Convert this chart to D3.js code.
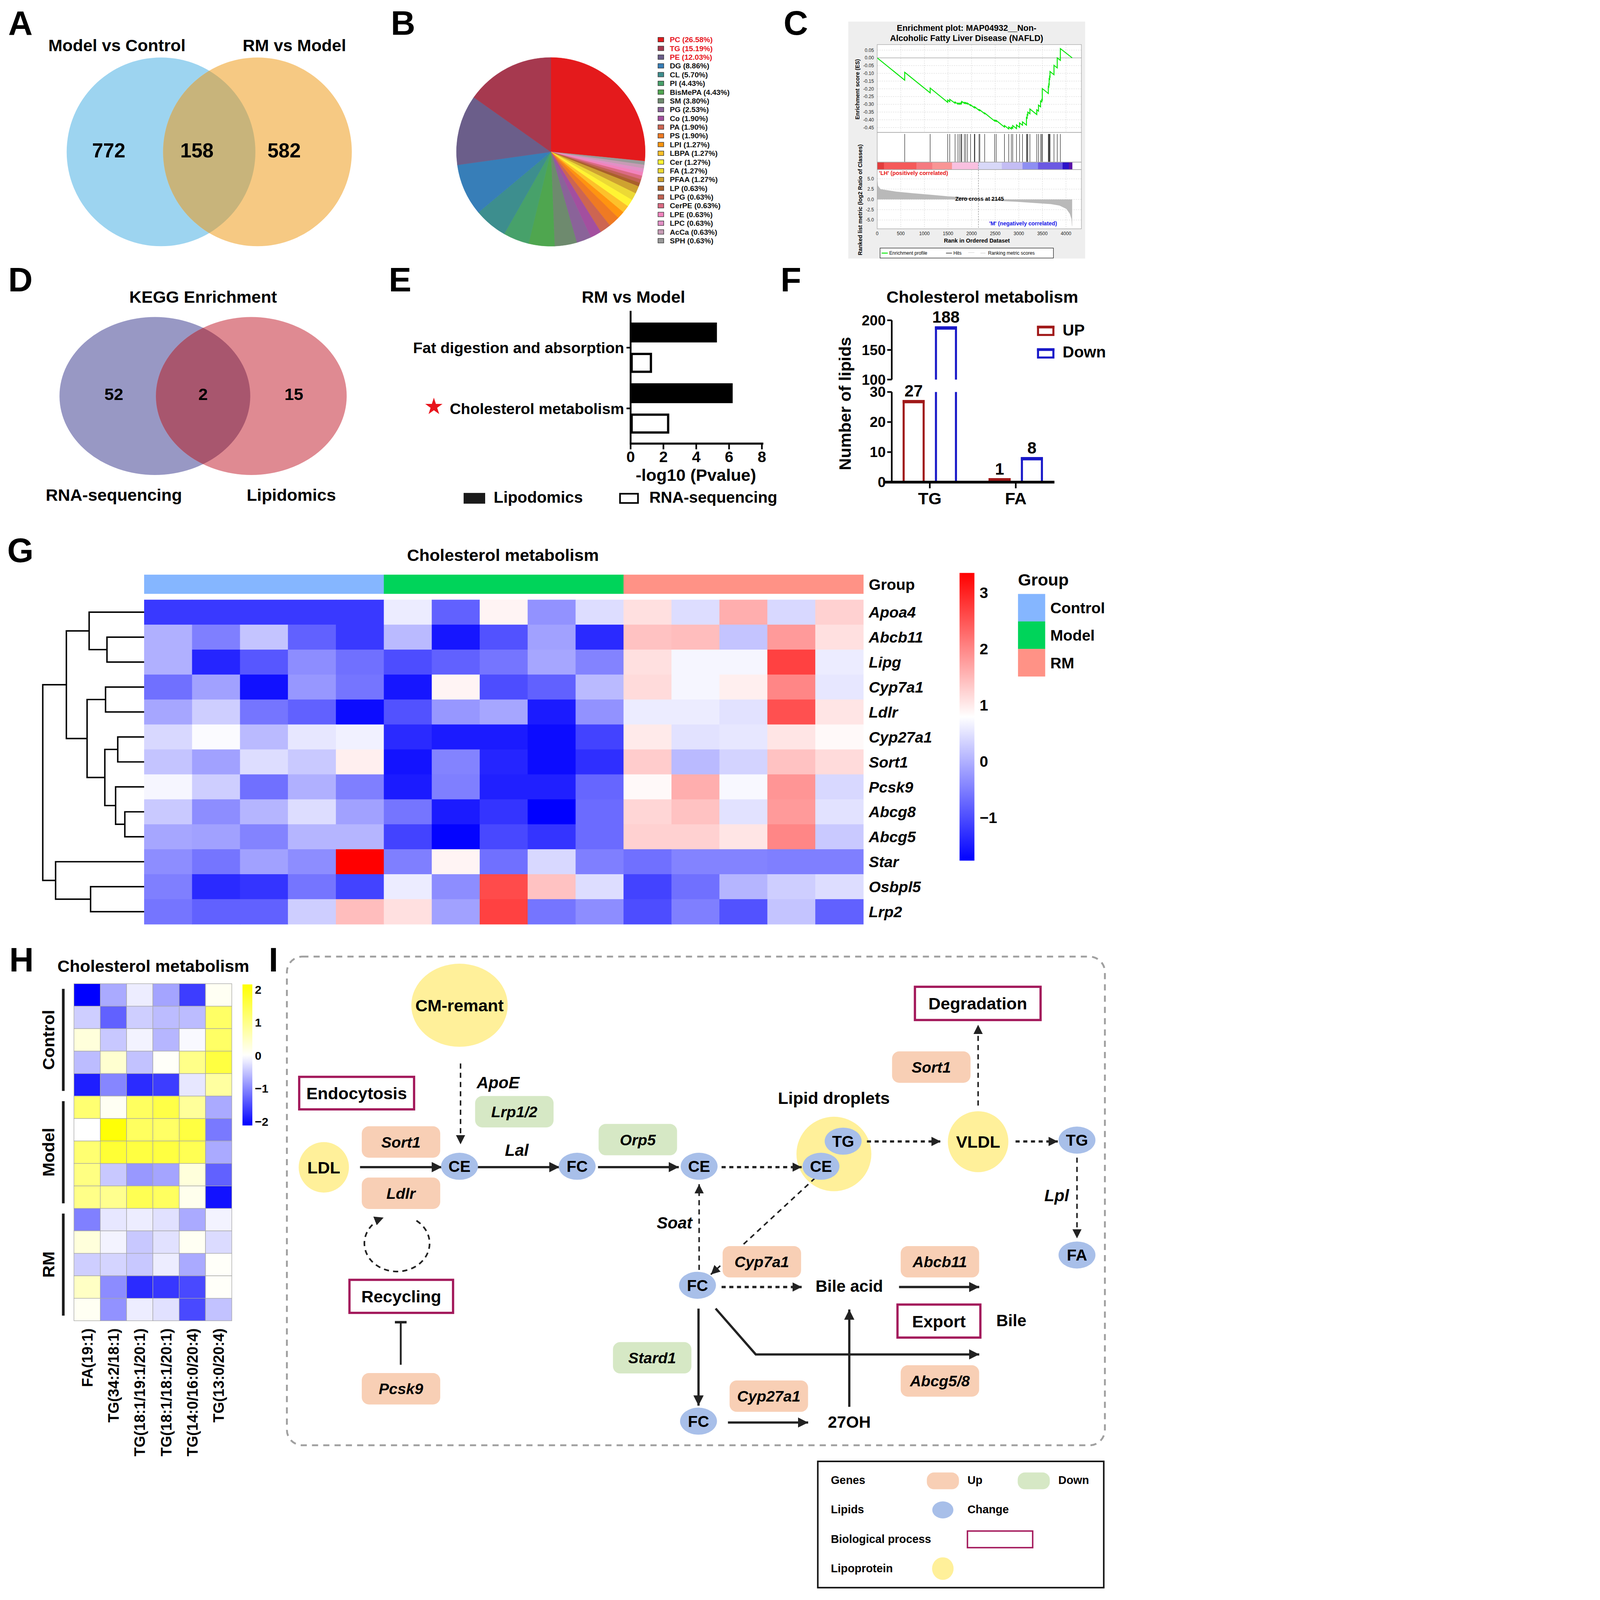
<!DOCTYPE html>
<html lang="en">
<head>
<meta charset="UTF-8">
<title>Cholesterol metabolism figure</title>
<script src="https://d3js.org/d3.v7.min.js"></script>
<style>
  html, body { margin: 0; padding: 0; background: #fff; overflow: hidden; }
  svg { display: block; }
</style>
</head>
<body>
<script>
// ---------------- data ----------------
// A
const vennANames = ["Model vs Control", "RM vs Model"];
const vennACounts = [772, 158, 582];
// B
const lipidClasses = ["PC","TG","PE","DG","CL","PI","BisMePA","SM","PG","Co","PA","PS","LPI","LBPA","Cer","FA","PFAA","LP","LPG","CerPE","LPE","LPC","AcCa","SPH"];
const lipidPercent = [26.58,15.19,12.03,8.86,5.70,4.43,4.43,3.80,2.53,1.90,1.90,1.90,1.27,1.27,1.27,1.27,1.27,0.63,0.63,0.63,0.63,0.63,0.63,0.63];
const lipidColors = ["#e41a1c","#a6394f","#6b5e8a","#377eb8","#3d8e8e","#47a16a","#4fa64f","#6e8a6e","#8a6399","#a34f9f","#cd6552","#ef7a23","#ff9410","#fdc12a","#fff433","#ecd935","#cea230","#a9602a","#c06252","#db6a82","#f283bd","#e290c6","#c79bb5","#999999"];
const lipidHighlight = ["PC","TG","PE"];
// C (GSEA)
const gseaEs = [[0,0],[583,-0.144],[583,-0.093],[1122,-0.226],[1122,-0.195],[1494,-0.287],[1494,-0.272],[1537,-0.283],[1537,-0.268],[1650,-0.293],[1650,-0.285],[1712,-0.299],[1712,-0.292],[1749,-0.300],[1749,-0.292],[1778,-0.299],[1778,-0.288],[1792,-0.291],[1792,-0.281],[1847,-0.294],[1847,-0.288],[1876,-0.295],[1876,-0.289],[1913,-0.298],[1913,-0.292],[1978,-0.308],[1978,-0.303],[2058,-0.322],[2058,-0.318],[2069,-0.321],[2069,-0.317],[2157,-0.339],[2157,-0.335],[2175,-0.340],[2175,-0.336],[2277,-0.361],[2277,-0.356],[2488,-0.408],[2488,-0.402],[2521,-0.410],[2521,-0.404],[2696,-0.447],[2696,-0.437],[2787,-0.459],[2787,-0.446],[2842,-0.459],[2842,-0.448],[2871,-0.455],[2871,-0.437],[2951,-0.457],[2951,-0.433],[3016,-0.449],[3016,-0.420],[3078,-0.435],[3078,-0.413],[3162,-0.434],[3162,-0.385],[3177,-0.389],[3177,-0.366],[3191,-0.369],[3191,-0.350],[3235,-0.361],[3235,-0.330],[3381,-0.366],[3381,-0.335],[3417,-0.344],[3417,-0.305],[3461,-0.316],[3461,-0.278],[3486,-0.284],[3486,-0.270],[3497,-0.273],[3497,-0.198],[3625,-0.230],[3625,-0.185],[3636,-0.188],[3636,-0.170],[3643,-0.172],[3643,-0.135],[3654,-0.138],[3654,-0.120],[3661,-0.122],[3661,-0.088],[3745,-0.109],[3745,-0.048],[3814,-0.065],[3814,0.0],[3880,-0.016],[3880,0.060],[4130,0.0]];
const gseaHits = [583,1122,1494,1537,1650,1712,1749,1778,1792,1847,1876,1913,1978,2058,2069,2157,2175,2277,2488,2521,2696,2787,2842,2871,2951,3016,3078,3162,3177,3191,3235,3381,3417,3461,3486,3497,3625,3636,3643,3654,3661,3745,3814,3880];
const gseaMetric = [[0,5.0],[18,3.3],[73,2.5],[400,1.9],[765,1.5],[1129,1.15],[1494,0.77],[1858,0.5],[2145,0],[2587,-0.38],[2951,-0.58],[3315,-0.85],[3679,-1.15],[3862,-1.5],[4007,-2.3],[4080,-3.5],[4116,-4.8],[4124,-6.3],[4130,-6.6]];
const gseaBarRanks = [0,146,831,1166,1585,2142,2641,3078,3406,3927,4062,4130];
const gseaBarColors = ["#e23c3c","#f55a5a","#f57a80","#f99595","#f9c0e0","#d8d8f8","#c4bdf4","#8e8ef2","#6b58e2","#2c12c8","#5a12a8"];
const gseaZeroCross = 2145;
const gseaEsTicks = [0.05,0,-0.05,-0.10,-0.15,-0.20,-0.25,-0.30,-0.35,-0.40,-0.45];
const gseaMetricTicks = [5,2.5,0,-2.5,-5];
const gseaRankTicks = [0,500,1000,1500,2000,2500,3000,3500,4000];
// D
const vennDNames = ["RNA-sequencing", "Lipidomics"];
const vennDCounts = [52, 2, 15];
// E
const ePathways = ["Fat digestion and absorption", "Cholesterol metabolism"];
const eLipidomics = [5.26, 6.22];
const eRnaseq = [1.3, 2.35];
const eTicks = [0,2,4,6,8];
// F
const fClasses = ["TG", "FA"];
const fUp = [27, 1];
const fDown = [188, 8];
const fTicksLow = [0,10,20,30];
const fTicksHigh = [100,150,200];
// G
const gGenes = ["Apoa4","Abcb11","Lipg","Cyp7a1","Ldlr","Cyp27a1","Sort1","Pcsk9","Abcg8","Abcg5","Star","Osbpl5","Lrp2"];
const gGroups = ["Control","Model","RM"];
const gValues = [
  [-1.2,-1.2,-1.2,-1.2,-1.2, 0.6,-0.8,0.9,-0.3,0.45, 1.1,0.45,1.6,0.4,1.25],
  [0.0,-0.5,0.2,-0.8,-1.2, 0.1,-1.55,-0.95,-0.15,-1.35, 1.4,1.45,0.2,1.8,1.1],
  [0.0,-1.4,-0.9,-0.35,-0.65, -1.0,-0.8,-0.6,-0.1,-0.45, 1.1,0.7,0.7,2.7,0.6],
  [-0.65,-0.15,-1.6,-0.25,-0.6, -1.55,0.9,-1.0,-0.8,0.1, 1.15,0.7,0.95,2.0,0.55],
  [-0.1,0.3,-0.6,-0.8,-1.65, -0.95,-0.25,-0.1,-1.5,-0.3, 0.6,0.6,0.5,2.55,1.05],
  [0.4,0.75,0.1,0.55,0.65, -1.35,-1.5,-1.5,-1.65,-1.1, 1.0,0.5,0.55,1.05,0.85],
  [0.2,-0.15,0.45,0.25,0.95, -1.58,-0.45,-1.4,-1.65,-1.3, 1.3,0.1,0.35,1.4,1.15],
  [0.7,0.3,-0.65,0.0,-0.5, -1.5,-0.5,-1.45,-1.45,-0.75, 0.85,1.6,0.72,1.85,0.4],
  [0.25,-0.35,0.05,0.45,-0.15, -0.6,-1.5,-1.25,-1.77,-0.7, 1.2,1.4,0.5,1.8,0.5],
  [-0.1,-0.15,-0.45,0.05,0.05, -1.1,-1.73,-1.05,-1.25,-0.7, 1.25,1.25,1.05,2.0,0.25],
  [-0.35,-0.6,-0.15,-0.35,3.35, -0.5,0.9,-0.65,0.4,-0.5, -0.65,-0.45,-0.45,-0.5,-0.5],
  [-0.5,-1.35,-1.25,-0.6,-1.1, 0.6,-0.35,2.6,1.4,0.45, -1.1,-0.65,0.05,0.3,0.45],
  [-0.6,-0.8,-0.8,0.3,1.45, 1.1,-0.15,2.7,-0.6,-0.35, -1.0,-0.5,-0.95,0.2,-0.8]
];
// dendrogram: [left, right, height]
const gTree = [[["Apoa4", ["Abcb11","Lipg",3.62], 5.36], [["Cyp7a1","Ldlr",3.76], [["Cyp27a1","Sort1",2.57], ["Pcsk9", ["Abcg8","Abcg5",1.88], 2.78], 3.83], 5.56], 7.58], ["Star", ["Osbpl5","Lrp2",5.22], 8.63], 9.88];
const gScaleTicks = [3,2,1,0,-1];
// H
const hLipids = ["FA(19:1)","TG(34:2/18:1)","TG(18:1/19:1/20:1)","TG(18:1/18:1/20:1)","TG(14:0/16:0/20:4)","TG(13:0/20:4)"];
const hGroups = ["Control","Model","RM"];
const hValues = [
  [-2.1,-0.7,-0.15,-0.75,-1.6,0.1],
  [-0.4,-1.3,-0.4,-0.55,-0.55,1.3],
  [0.3,-0.45,-0.1,-0.6,-0.05,1.3],
  [-0.55,0.4,-0.5,0.05,1.0,1.6],
  [-1.85,-1.0,-1.75,-1.6,-0.2,0.8],
  [1.2,0.1,1.35,1.55,0.85,-0.7],
  [0.0,2.1,1.35,1.3,1.6,-1.1],
  [1.2,1.7,1.6,1.6,1.45,-0.7],
  [1.05,-0.45,-0.85,-0.75,0.3,-1.3],
  [1.0,0.95,1.45,1.35,0.15,-1.95],
  [-1.05,-0.2,-0.15,-0.25,-0.7,-0.1],
  [0.3,-0.1,-0.45,-0.25,0.1,-0.3],
  [-0.4,-0.35,-0.45,-0.15,-0.7,0.05],
  [0.5,-0.95,-1.75,-1.65,-1.5,0.05],
  [0.1,-0.9,-0.15,-0.25,-1.5,-0.5]
];
const hScaleTicks = [2,1,0,-1,-2];
// I (pathway diagram)
const iLipoproteins = ["CM-remant","LDL","","VLDL"];
const iLipids = ["CE","FC","CE","CE","TG","TG","FA","FC","FC"];
const iGenesUp = ["Sort1","Sort1","Ldlr","Cyp7a1","Abcb11","Cyp27a1","Abcg5/8","Pcsk9"];
const iGenesDown = ["Lrp1/2","Orp5","Stard1"];
const iProcesses = ["Degradation","Endocytosis","Recycling","Export"];
const iLabels = ["ApoE","Lal","Soat","Lpl","Lipid droplets","Bile acid","Bile","27OH"];
const iLabelItalic = [true,true,true,true,false,false,false,false];

// ---------------- setup ----------------
const FONT = '"Liberation Sans", Arial, Helvetica, sans-serif';
const VW = 1085, VH = 1559.4;
// fit the drawing to the window
const availW = document.documentElement.clientWidth || window.innerWidth;
const availH = window.innerHeight;
const k = Math.min(availW / VW, availH / VH);
const svg = d3.select("body").append("svg")
  .attr("width", Math.floor(VW * k)).attr("height", Math.floor(VH * k))
  .attr("viewBox", `0 0 ${VW} ${VH}`)
  .style("font-family", FONT)
  .style("background", "#fff");
const defs = svg.append("defs");

function txt(g, x, y, s, size, o = {}) {
  const t = g.append("text").attr("x", x).attr("y", y).text(s)
    .attr("font-size", size)
    .attr("font-weight", o.weight || "bold")
    .attr("text-anchor", o.anchor || "start")
    .attr("fill", o.fill || "#000");
  if (o.italic) t.attr("font-style", "italic");
  if (o.dy) t.attr("dy", o.dy);
  if (o.rotate) t.attr("transform", `rotate(${o.rotate},${x},${y})`);
  return t;
}
function line(g, x1, y1, x2, y2, w, c = "#000", dash = null) {
  const l = g.append("line").attr("x1", x1).attr("y1", y1).attr("x2", x2).attr("y2", y2)
    .attr("stroke", c).attr("stroke-width", w);
  if (dash) l.attr("stroke-dasharray", dash);
  return l;
}

// panel letters
[["A",8,34],["B",381,34],["C",764,34],["D",8,284],["E",379,284],["F",761,284],["G",7,548],["H",9,947],["I",262,947]]
  .forEach(([s,x,y]) => txt(svg, x, y, s, 33));

// ---------------- A: Venn ----------------
(function () {
  const g = svg.append("g");
  const c = [[157,148],[251,148]], r = 92;
  defs.append("clipPath").attr("id","clipA").append("circle").attr("cx",c[0][0]).attr("cy",c[0][1]).attr("r",r);
  g.append("circle").attr("cx",c[0][0]).attr("cy",c[0][1]).attr("r",r).attr("fill","#9dd4f0");
  g.append("circle").attr("cx",c[1][0]).attr("cy",c[1][1]).attr("r",r).attr("fill","#f6c983");
  g.append("circle").attr("cx",c[1][0]).attr("cy",c[1][1]).attr("r",r).attr("fill","#c8b47b").attr("clip-path","url(#clipA)");
  txt(g, 114, 50, vennANames[0], 16.5, {anchor:"middle"});
  txt(g, 287, 50, vennANames[1], 16.5, {anchor:"middle"});
  [106,192,277].forEach((x,i) => txt(g, x, 153.5, vennACounts[i], 19.5, {anchor:"middle"}));
})();

// ---------------- B: pie ----------------
(function () {
  const g = svg.append("g");
  const order = [0].concat(d3.range(lipidClasses.length - 1, 0, -1));
  const arcs = d3.pie().sort(null).value(i => lipidPercent[i])(order);
  const arc = d3.arc().innerRadius(0).outerRadius(92);
  g.append("g").attr("transform","translate(537,148)")
    .selectAll("path").data(arcs).join("path")
    .attr("d", arc).attr("fill", d => lipidColors[d.data])
    .attr("stroke", d => lipidColors[d.data]).attr("stroke-width", 0.3);
  const yL = d3.scalePoint(lipidClasses, [38.6, 234.6]);
  lipidClasses.forEach((k, i) => {
    g.append("rect").attr("x",641.5).attr("y",yL(k)-2.2).attr("width",5.6).attr("height",4.4)
      .attr("fill",lipidColors[i]).attr("stroke","#333").attr("stroke-width",0.5);
    txt(g, 653, yL(k)+2.6, `${k} (${lipidPercent[i].toFixed(2)}%)`, 7.3,
      {fill: lipidHighlight.includes(k) ? "#e8141c" : "#111"});
  });
})();

// ---------------- C: GSEA ----------------
(function () {
  const g = svg.append("g");
  g.append("rect").attr("x",827).attr("y",21).attr("width",231).attr("height",231).attr("fill","#eeeeee");
  const L = 855.2, R = 1054.3;
  const x = d3.scaleLinear([0,4000],[855.2,1039.3]);
  const yE = d3.scaleLinear([0.05,-0.45],[48.8,124.3]);
  const yM = d3.scaleLinear([5,-5],[174.3,214.4]);
  g.append("rect").attr("x",L).attr("y",43.4).attr("width",R-L).attr("height",223-43.4).attr("fill","#fff");
  // grid
  gseaRankTicks.slice(1).forEach(t => {
    line(g, x(t), 43.4, x(t), 129, 0.35, "#cfcfcf", "1.2,1");
    line(g, x(t), 165.3, x(t), 223, 0.35, "#cfcfcf", "1.2,1");
  });
  gseaEsTicks.forEach(t => line(g, L, yE(t), R, yE(t), 0.35, "#cfcfcf", "1.2,1"));
  gseaMetricTicks.forEach(t => line(g, L, yM(t), R, yM(t), 0.35, "#cfcfcf", "1.2,1"));
  line(g, L, yE(0), R, yE(0), 0.9, "#c4c4c4");
  // ranked metric
  g.append("path").datum(gseaMetric)
    .attr("d", d3.area().x(d => x(d[0])).y0(yM(0)).y1(d => yM(d[1])))
    .attr("fill","#b9b9b9");
  // hits
  gseaHits.forEach(h => line(g, x(h), 130.6, x(h), 158, 0.4, "#000"));
  // colour bar
  gseaBarColors.forEach((c, i) => {
    g.append("rect").attr("x", x(gseaBarRanks[i])).attr("y",158)
      .attr("width", x(gseaBarRanks[i+1]) - x(gseaBarRanks[i]) + 0.2).attr("height",7.3).attr("fill",c);
  });
  // ES curve
  g.append("path").datum(gseaEs)
    .attr("d", d3.line().x(d => x(d[0])).y(d => yE(d[1])))
    .attr("fill","none").attr("stroke","#00e600").attr("stroke-width",0.9);
  // frames
  [[43.4,129],[129,158],[158,165.3],[165.3,223]].forEach(([a,b]) =>
    g.append("rect").attr("x",L).attr("y",a).attr("width",R-L).attr("height",b-a)
      .attr("fill","none").attr("stroke","#a8a8a8").attr("stroke-width",0.5));
  line(g, x(gseaZeroCross), 158, x(gseaZeroCross), 223, 0.4, "#777", "1.5,1");
  // labels
  gseaEsTicks.forEach(t => txt(g, 852, yE(t), t.toFixed(2), 4.6, {anchor:"end", weight:"normal", dy:"0.35em", fill:"#222"}));
  gseaMetricTicks.forEach(t => txt(g, 852, yM(t), t.toFixed(1), 4.6, {anchor:"end", weight:"normal", dy:"0.35em", fill:"#222"}));
  gseaRankTicks.forEach(t => txt(g, x(t), 229.2, t, 4.6, {anchor:"middle", weight:"normal", fill:"#222"}));
  txt(g, 942.4, 29.9, "Enrichment plot: MAP04932__Non-", 8.2, {anchor:"middle"});
  txt(g, 942.4, 40, "Alcoholic Fatty Liver Disease (NAFLD)", 8.2, {anchor:"middle"});
  txt(g, 838, 87, "Enrichment score (ES)", 5.5, {anchor:"middle", rotate:-90});
  txt(g, 840.5, 194.7, "Ranked list metric (log2 Ratio of Classes)", 5.5, {anchor:"middle", rotate:-90});
  txt(g, 952.4, 236.5, "Rank in Ordered Dataset", 5.5, {anchor:"middle"});
  txt(g, 857, 170.5, "'LH' (positively correlated)", 5.4, {fill:"#e81818"});
  txt(g, 1030.5, 219.8, "'M' (negatively correlated)", 5.4, {anchor:"end", fill:"#1818e8"});
  txt(g, 955, 195.5, "Zero cross at " + gseaZeroCross, 5.4, {anchor:"middle"});
  // legend
  g.append("rect").attr("x",858).attr("y",241.8).attr("width",169).attr("height",9.7)
    .attr("fill","#fff").attr("stroke","#222").attr("stroke-width",0.5);
  line(g, 859.5, 246.7, 865.5, 246.7, 0.9, "#00e600");
  txt(g, 867, 248.4, "Enrichment profile", 4.6, {weight:"normal"});
  line(g, 922.3, 246.7, 928.1, 246.7, 0.5, "#000");
  txt(g, 929.5, 248.4, "Hits", 4.6, {weight:"normal"});
  line(g, 944, 246.2, 950, 246.2, 0.4, "#ccc");
  line(g, 955.8, 246.7, 960.8, 246.7, 0.5, "#ccc");
  txt(g, 963.3, 248.4, "Ranking metric scores", 4.6, {weight:"normal"});
})();

// ---------------- D: Venn ----------------
(function () {
  const g = svg.append("g");
  const c = [[151,386],[245,386]], rx = 93, ry = 77;
  defs.append("clipPath").attr("id","clipD").append("ellipse").attr("cx",c[0][0]).attr("cy",c[0][1]).attr("rx",rx).attr("ry",ry);
  g.append("ellipse").attr("cx",c[0][0]).attr("cy",c[0][1]).attr("rx",rx).attr("ry",ry).attr("fill","#9898c4");
  g.append("ellipse").attr("cx",c[1][0]).attr("cy",c[1][1]).attr("rx",rx).attr("ry",ry).attr("fill","#df8a92");
  g.append("ellipse").attr("cx",c[1][0]).attr("cy",c[1][1]).attr("rx",rx).attr("ry",ry).attr("fill","#a8566e").attr("clip-path","url(#clipD)");
  txt(g, 198, 295, "KEGG Enrichment", 16.5, {anchor:"middle"});
  [111,198,286.5].forEach((x,i) => txt(g, x, 390, vennDCounts[i], 16.5, {anchor:"middle"}));
  txt(g, 111, 488, vennDNames[0], 16.5, {anchor:"middle"});
  txt(g, 284, 488, vennDNames[1], 16.5, {anchor:"middle"});
})();

// ---------------- E: bars ----------------
(function () {
  const g = svg.append("g");
  const x = d3.scaleLinear([0,8],[614.8,742.8]);
  const keys = ePathways.flatMap(p => [p + "|L", p + "|R"]);
  const y = d3.scaleBand(keys, [314.4, 422.6]).paddingInner(0.345).paddingOuter(0);
  ePathways.forEach((p, i) => {
    g.append("rect").attr("x", x(0)).attr("y", y(p+"|L")).attr("width", x(eLipidomics[i]) - x(0))
      .attr("height", y.bandwidth()).attr("fill","#000");
    g.append("rect").attr("x", x(0)+1).attr("y", y(p+"|R")+1).attr("width", x(eRnaseq[i]) - x(0) - 2)
      .attr("height", y.bandwidth()-2).attr("fill","#fff").attr("stroke","#000").attr("stroke-width",2.2);
    const ty = (y(p+"|L") + y(p+"|R") + y.bandwidth()) / 2;
    line(g, x(0)-4, ty, x(0), ty, 1.6);
    txt(g, 608.5, ty, p, 15, {anchor:"end", dy:"0.36em"});
  });
  line(g, x(0), 303, x(0), 433.4, 1.8);
  line(g, x(0)-0.9, 432.4, 744.2, 432.4, 2);
  eTicks.forEach(t => {
    line(g, x(t), 432.4, x(t), 438, 1.6);
    txt(g, x(t), 450.5, t, 15, {anchor:"middle"});
  });
  txt(g, 617.6, 295, "RM vs Model", 16.5, {anchor:"middle"});
  txt(g, 678.5, 468.6, "-log10 (Pvalue)", 16.5, {anchor:"middle"});
  g.append("path").attr("d", d3.symbol(d3.symbolStar, 88)())
    .attr("transform","translate(423,396.5)").attr("fill","#e8141c");
  g.append("rect").attr("x",452).attr("y",480.5).attr("width",21).attr("height",10.5).attr("fill","#1a1a1a");
  txt(g, 481.3, 490, "Lipodomics", 15.5);
  g.append("rect").attr("x",604.5).attr("y",481.3).attr("width",17.5).attr("height",9).attr("fill","#fff")
    .attr("stroke","#000").attr("stroke-width",1.6);
  txt(g, 633, 490, "RNA-sequencing", 15.5);
})();

// ---------------- F: broken-axis bars ----------------
(function () {
  const g = svg.append("g");
  const yLo = d3.scaleLinear([0,30],[470,382.1]);
  const yHi = d3.scaleLinear([100,200],[370,312.2]);
  const x = d3.scalePoint(fClasses, [906.5, 990.3]);
  const off = 15.75, bw = 19.5;
  const upC = "#a01818", dnC = "#1818c8";
  function bar(cx, v, col) {
    const x0 = cx - bw/2, x1 = cx + bw/2;
    if (v <= 30) {
      const top = yLo(v);
      g.append("path").attr("d", `M${x0},470V${top}H${x1}V470`).attr("fill","#fff")
        .attr("stroke", col).attr("stroke-width", 2);
      g.append("rect").attr("x", x0-1).attr("y", top-1).attr("width", bw+2).attr("height", Math.min(3.2, 470-top+1)).attr("fill", col);
    } else {
      const top = yHi(v);
      g.append("path").attr("d", `M${x0},470V${yLo(30)}M${x1},470V${yLo(30)}`).attr("stroke", col).attr("stroke-width", 2);
      g.append("path").attr("d", `M${x0},370V${top}H${x1}V370`).attr("fill","#fff").attr("stroke", col).attr("stroke-width", 2);
      g.append("rect").attr("x", x0-1).attr("y", top-1).attr("width", bw+2).attr("height", 3.2).attr("fill", col);
    }
  }
  fClasses.forEach((c, i) => {
    bar(x(c) - off, fUp[i], upC);
    bar(x(c) + off, fDown[i], dnC);
    const yu = fUp[i] <= 30 ? yLo(fUp[i]) : yHi(fUp[i]);
    const yd = fDown[i] <= 30 ? yLo(fDown[i]) : yHi(fDown[i]);
    txt(g, x(c) - off, yu - 4.5, fUp[i], 16, {anchor:"middle"});
    txt(g, x(c) + off, yd - 4.5, fDown[i], 16, {anchor:"middle"});
    line(g, x(c), 470, x(c), 476, 1.6);
    txt(g, x(c), 491.5, c, 16.5, {anchor:"middle"});
  });
  line(g, 869.4, 470, 869.4, yLo(30), 1.6);
  line(g, 869.4, 370, 869.4, yHi(200), 1.6);
  fTicksLow.forEach(t => { line(g, 865, yLo(t), 869.4, yLo(t), 1.6); txt(g, 863.5, yLo(t), t, 14, {anchor:"end", dy:"0.35em"}); });
  fTicksHigh.forEach(t => { line(g, 865, yHi(t), 869.4, yHi(t), 1.6); txt(g, 863.5, yHi(t), t, 14, {anchor:"end", dy:"0.35em"}); });
  line(g, 862, 470, 1028, 470, 2.6);
  txt(g, 957.7, 295, "Cholesterol metabolism", 16.5, {anchor:"middle"});
  txt(g, 829.5, 393.4, "Number of lipids", 16.5, {anchor:"middle", rotate:-90});
  [["UP", upC, 318.5, 327], ["Down", dnC, 340.5, 348.5]].forEach(([s, c, ry, ty]) => {
    g.append("rect").attr("x",1012).attr("y",ry).attr("width",15).attr("height",8).attr("fill","#fff")
      .attr("stroke",c).attr("stroke-width",2);
    g.append("rect").attr("x",1011).attr("y",ry-1).attr("width",17).attr("height",2.6).attr("fill",c);
    txt(g, 1036, ty, s, 15.5);
  });
})();

// ---------------- G: heatmap ----------------
(function () {
  const g = svg.append("g");
  const x = d3.scaleBand(d3.range(15), [140.5, 841.6]);
  const y = d3.scaleBand(gGenes, [584.6, 900.9]);
  const color = d3.scaleLinear([-1.77, 0.79, 3.35], ["#0000ff", "#ffffff", "#ff0000"]);
  const groupColor = d3.scaleOrdinal(gGroups, ["#85b6ff", "#00d45a", "#ff9286"]);
  gGroups.forEach((gr, i) => {
    g.append("rect").attr("x", x(i*5)).attr("y",560.2).attr("width", x.bandwidth()*5 + 0.3).attr("height",18.7)
      .attr("fill", groupColor(gr));
  });
  gValues.forEach((row, r) => row.forEach((v, c) => {
    g.append("rect").attr("x", x(c)).attr("y", y(gGenes[r])).attr("width", x.bandwidth()+0.3)
      .attr("height", y.bandwidth()+0.3).attr("fill", color(v));
  }));
  txt(g, 847, 569.5, "Group", 15, {dy:"0.36em"});
  gGenes.forEach(n => txt(g, 847, y(n) + y.bandwidth()/2, n, 15, {italic:true, dy:"0.36em"}));
  txt(g, 490.3, 547, "Cholesterol metabolism", 16.5, {anchor:"middle"});
  // dendrogram
  const root = d3.hierarchy(gTree, d => Array.isArray(d) ? d.slice(0, 2) : null);
  const xd = d3.scaleLinear([0, 9.88], [140.5, 41.7]);
  root.eachAfter(n => {
    if (!n.children) { n.py = y(n.data) + y.bandwidth()/2; n.px = xd(0); }
    else { n.py = d3.mean(n.children, c => c.py); n.px = xd(n.data[2]); }
  });
  const dg = g.append("g").attr("stroke","#000").attr("stroke-width",1.4).attr("fill","none");
  root.each(n => {
    if (!n.children) return;
    dg.append("path").attr("d", `M${n.children[0].px},${n.children[0].py}H${n.px}V${n.children[1].py}H${n.children[1].px}`);
  });
  // colour legend
  const yc = d3.scaleLinear([-1.77, 3.35], [839, 558.5]);
  const grad = defs.append("linearGradient").attr("id","gradG").attr("x1",0).attr("y1",1).attr("x2",0).attr("y2",0);
  d3.range(0, 1.0001, 0.05).forEach(t => grad.append("stop").attr("offset", t).attr("stop-color", color(-1.77 + t*5.12)));
  g.append("rect").attr("x",935.5).attr("y",558.5).attr("width",14.5).attr("height",280.5).attr("fill","url(#gradG)");
  gScaleTicks.forEach(t => txt(g, 955, yc(t), t < 0 ? "\u2212" + Math.abs(t) : t, 15, {dy:"0.36em"}));
  txt(g, 992.5, 571, "Group", 16.5);
  gGroups.forEach((gr, i) => {
    g.append("rect").attr("x",992.5).attr("y",579 + i*26.8).attr("width",26.5).attr("height",26.9).attr("fill",groupColor(gr));
    txt(g, 1024, 592.4 + i*26.8, gr, 15, {dy:"0.36em"});
  });
})();

// ---------------- H: heatmap ----------------
(function () {
  const g = svg.append("g");
  const x = d3.scaleBand(hLipids, [72.1, 226]);
  const y = d3.scaleBand(d3.range(15), [959, 1287.6]);
  const color = d3.scaleLinear([-2.1, 0, 2.15], ["#0000ff", "#ffffff", "#ffff00"]);
  hValues.forEach((row, r) => row.forEach((v, c) => {
    g.append("rect").attr("x", x(hLipids[c])).attr("y", y(r)).attr("width", x.bandwidth())
      .attr("height", y.bandwidth()).attr("fill", color(v)).attr("stroke","#a6a6a6").attr("stroke-width",0.5);
  }));
  txt(g, 149.5, 947.5, "Cholesterol metabolism", 16.5, {anchor:"middle"});
  hLipids.forEach(n => txt(g, x(n) + x.bandwidth()/2 + 5.2, 1295, n, 14.5, {anchor:"end", rotate:-90}));
  hGroups.forEach((gr, i) => {
    const y0 = y(i*5) + 5, y1 = y(i*5 + 4) + y.bandwidth() - 5;
    line(g, 61.7, y0, 61.7, y1, 2.6, "#1a1a1a");
    txt(g, 53, (y0 + y1)/2, gr, 16.5, {anchor:"middle", rotate:-90});
  });
  const yc = d3.scaleLinear([-2, 2], [1093.4, 964.5]);
  const grad = defs.append("linearGradient").attr("id","gradH").attr("x1",0).attr("y1",1).attr("x2",0).attr("y2",0);
  d3.range(0, 1.0001, 0.05).forEach(t => grad.append("stop").attr("offset", t).attr("stop-color", color(-2.1 + t*4.25)));
  g.append("rect").attr("x",236.4).attr("y",959.7).attr("width",9.6).attr("height",137.5).attr("fill","url(#gradH)");
  hScaleTicks.forEach(t => txt(g, 248.5, yc(t), t < 0 ? "\u2212" + Math.abs(t) : t, 11.5, {dy:"0.36em"}));
})();

// ---------------- I: pathway diagram ----------------
(function () {
  const g = svg.append("g");
  const mk = (id, size) => defs.append("marker").attr("id", id).attr("viewBox","0 0 10 10")
    .attr("refX", 10).attr("refY", 5).attr("markerWidth", size).attr("markerHeight", size)
    .attr("markerUnits","userSpaceOnUse").attr("orient","auto")
    .append("path").attr("d","M0,0L10,5L0,10z").attr("fill","#222");
  mk("arrS", 10); mk("arrD", 9);

  // layout (diagram positions)
  const lipoLayout = [[448,980,47,40.5],[315.7,1138,24.5,24.6],[813,1125,36.5,36.3],[953.6,1113,29.5,29.7]];
  const lipidLayout = [[448,1137],[562.7,1137],[681.6,1137],[800.4,1137],[822,1112.5],[1050,1111.5],[1050,1223.5],[680,1253],[681,1385.5]];
  const upLayout = [[869.7,1025],[352.7,1098],[352.7,1148],[704.5,1214.8],[878.1,1214.8],[711.3,1345.8],[878.1,1331],[352.7,1338.6]];
  const downLayout = [[463.2,1068.5],[583.6,1095.7],[597.6,1308.4]];
  const procLayout = [[892,962,122.5,32.4],[291.7,1049.8,112,31.7],[340.7,1247.7,101,32.2],[875,1271.8,80.8,32.2]];
  const labelLayout = [[485.6,1055],[503.8,1121],[657.6,1192],[1030.2,1165.2],[813,1070.3],[828,1253.5],[986,1287],[828,1386]];

  // border
  g.append("rect").attr("x",279.7).attr("y",932.6).attr("width",797.5).attr("height",476.4).attr("rx",15)
    .attr("fill","none").attr("stroke","#a0a0a0").attr("stroke-width",1.8).attr("stroke-dasharray","6,5");

  iLipoproteins.forEach((s, i) => {
    const [cx, cy, rx, ry] = lipoLayout[i];
    g.append("ellipse").attr("cx",cx).attr("cy",cy).attr("rx",rx).attr("ry",ry).attr("fill","#fff09a");
    if (s) txt(g, cx, cy, s, 16.5, {anchor:"middle", dy:"0.36em"});
  });

  // arrows
  const arrows = g.append("g").attr("fill","none").attr("stroke","#222");
  const solid = [[351,1137.8,430.9,1137.8],[465.8,1137.8,545.5,1137.8],[583,1137.8,661.8,1137.8],
    [876.5,1254.7,954.7,1254.7],[681,1275.7,681,1370.4],[828,1371.5,828,1276.6],[709.7,1386.8,787.9,1386.8]];
  solid.forEach(([a,b,c,d]) => arrows.append("path").attr("d",`M${a},${b}L${c},${d}`)
    .attr("stroke-width",2.2).attr("marker-end","url(#arrS)"));
  arrows.append("path").attr("d","M697.7,1275.7L736.8,1320.4L954.7,1320.4").attr("stroke-width",2.2).attr("marker-end","url(#arrS)");
  const dashed = [[449,1036.8,449,1115.6],[953.6,1077.8,953.6,999],[1050,1128.5,1050,1207.3],
    [681.6,1238,681.6,1154.4],[794.7,1148.4,693,1242.5]];
  dashed.forEach(([a,b,c,d]) => arrows.append("path").attr("d",`M${a},${b}L${c},${d}`)
    .attr("stroke-width",1.5).attr("stroke-dasharray","5,4").attr("marker-end","url(#arrD)"));
  const dotted = [[703.5,1137.8,781.6,1137.8],[845.2,1112.8,917.1,1112.8],[990.1,1112.8,1031.3,1112.8],[703.5,1254.7,781.6,1254.7]];
  dotted.forEach(([a,b,c,d]) => arrows.append("path").attr("d",`M${a},${b}L${c},${d}`)
    .attr("stroke-width",2.2).attr("stroke-dasharray","4,3.5").attr("marker-end","url(#arrD)"));
  arrows.append("path").attr("d","M406,1190A31.8 27.5 0 1 1 374,1187").attr("stroke-width",1.6)
    .attr("stroke-dasharray","5,4").attr("marker-end","url(#arrD)");
  line(g, 390.7, 1289, 390.7, 1330.5, 1.8, "#222");
  line(g, 385, 1289, 396.4, 1289, 2.4, "#222");

  iLipids.forEach((s, i) => {
    const [cx, cy] = lipidLayout[i];
    g.append("ellipse").attr("cx",cx).attr("cy",cy).attr("rx",18).attr("ry",13.2).attr("fill","#a8bfe9");
    txt(g, cx, cy, s, 15.5, {anchor:"middle", dy:"0.36em"});
  });
  const geneBox = (s, [x0, y0], fill) => {
    g.append("rect").attr("x",x0).attr("y",y0).attr("width",76.5).attr("height",30.6).attr("rx",7).attr("fill",fill);
    txt(g, x0 + 38.2, y0 + 15.3, s, 15, {anchor:"middle", italic:true, dy:"0.36em"});
  };
  iGenesUp.forEach((s, i) => geneBox(s, upLayout[i], "#f8cfb5"));
  iGenesDown.forEach((s, i) => geneBox(s, downLayout[i], "#d6e8c5"));
  iProcesses.forEach((s, i) => {
    const [x0, y0, w, h] = procLayout[i];
    g.append("rect").attr("x",x0).attr("y",y0).attr("width",w).attr("height",h).attr("fill","#fff")
      .attr("stroke","#a3195b").attr("stroke-width",2.2);
    txt(g, x0 + w/2, y0 + h/2, s, 16.5, {anchor:"middle", dy:"0.36em"});
  });
  iLabels.forEach((s, i) => txt(g, labelLayout[i][0], labelLayout[i][1], s, i === 4 ? 16.5 : 16,
    {anchor:"middle", italic:iLabelItalic[i], dy:"0.36em"}));

  // legend
  g.append("rect").attr("x",797.3).attr("y",1424.7).attr("width",278.8).attr("height",123.1)
    .attr("fill","#fff").attr("stroke","#111").attr("stroke-width",1.5);
  const lg = [["Genes",1442.7],["Lipids",1471.2],["Biological process",1500.2],["Lipoprotein",1528.8]];
  lg.forEach(([s, y]) => txt(g, 810, y, s, 11, {dy:"0.36em"}));
  g.append("rect").attr("x",903.6).attr("y",1435.5).attr("width",31.3).attr("height",16.4).attr("rx",7).attr("fill","#f8cfb5");
  txt(g, 943.2, 1442.7, "Up", 11, {dy:"0.36em"});
  g.append("rect").attr("x",992.2).attr("y",1435.5).attr("width",31.3).attr("height",16.4).attr("rx",7).attr("fill","#d6e8c5");
  txt(g, 1031.8, 1442.7, "Down", 11, {dy:"0.36em"});
  g.append("ellipse").attr("cx",919.2).attr("cy",1472).attr("rx",10.3).attr("ry",8.3).attr("fill","#a8bfe9");
  txt(g, 943.2, 1471.2, "Change", 11, {dy:"0.36em"});
  g.append("rect").attr("x",943.2).attr("y",1492.6).attr("width",63.6).attr("height",16.2).attr("fill","#fff")
    .attr("stroke","#a3195b").attr("stroke-width",1.4);
  g.append("ellipse").attr("cx",919.2).attr("cy",1529.2).attr("rx",10.5).attr("ry",11).attr("fill","#fff09a");
})();
</script>
</body>
</html>
